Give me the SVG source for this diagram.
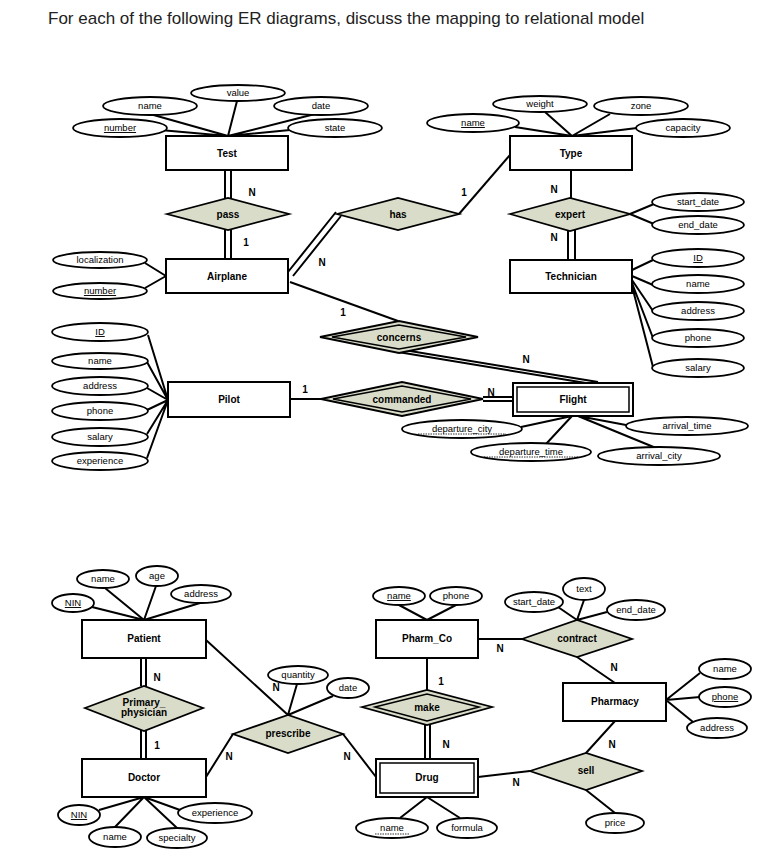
<svg xmlns="http://www.w3.org/2000/svg" width="775" height="866" viewBox="0 0 775 866">
<style>
text{font-family:"Liberation Sans",Arial,sans-serif;text-anchor:middle;fill:#000}
.t{font-size:17px;text-anchor:start;fill:#222}
.e{fill:#fff;stroke:#000;stroke-width:2}
.a{fill:#fff;stroke:#000;stroke-width:1.8}
.r{fill:#d9dcc9;stroke:#000;stroke-width:1.8}
.ri{fill:none;stroke:#000;stroke-width:1.5}
.l{stroke:#000;stroke-width:2;fill:none}
.b{font-size:10px;font-weight:bold}
.s{font-size:9.5px}
.c{font-size:10px;font-weight:bold}
.u{text-decoration:underline}
.d{stroke:#000;stroke-width:0.8;stroke-dasharray:1.5 1}
</style>
<text class="t" x="48" y="24">For each of the following ER diagrams, discuss the mapping to relational model</text>

<g id="connectors">
<!-- Test attrs -->
<path class="l" d="M160,130L228,136M150,114L228,136M237,101L228,136M315,114L228,136M290,130L228,136"/>
<!-- Test-pass double -->
<path class="l" d="M225,170V198M231,170V198M225,230V260M231,230V260"/>
<!-- Airplane attrs -->
<path class="l" d="M145,263L166,276M145,288L166,276"/>
<!-- Airplane-has double -->
<path class="l" d="M288,272L336,212M293,276L341,216"/>
<!-- has-Type -->
<path class="l" d="M459,214L510,155"/>
<!-- Type attrs -->
<path class="l" d="M515,127L572,136M545,112L572,136M610,114L572,136M637,128L572,136"/>
<!-- Type-expert -->
<path class="l" d="M571,170V198M568,230V260M575,230V260"/>
<path class="l" d="M630,214L654,204M630,214L654,224"/>
<!-- Technician attrs -->
<path class="l" d="M632,270L653,260M632,276L653,285M632,280L653,311M632,283L653,338M632,286L653,367"/>
<!-- Airplane-concerns -->
<path class="l" d="M290,282L398,321"/>
<!-- concerns-Flight double -->
<path class="l" d="M398,352L592,384M404,350L598,382"/>
<!-- Pilot attrs -->
<path class="l" d="M148,335L168,400M147,362L168,400M147,388L168,400M147,410L168,400M147,434L168,400M147,458L168,400"/>
<!-- Pilot-commanded -->
<path class="l" d="M290,399H321"/>
<path class="l" d="M483,397H513M483,401H513"/>
<!-- Flight attrs -->
<path class="l" d="M521,427L572,416M546,444L572,416M626,425L578,416M656,448L578,416"/>

<!-- Patient attrs -->
<path class="l" d="M92,607L144,620M105,588L144,620M156,586L144,620M200,603L144,620"/>
<path class="l" d="M141,658V686M146,658V686M141,730V759M146,730V759"/>
<!-- Doctor attrs -->
<path class="l" d="M99,810L144,797M115,827L144,797M177,828L144,797M180,810L144,797"/>
<!-- prescribe -->
<path class="l" d="M206,640L288,715M206,777L233,734M343,734L376,777M297,684L288,715M333,696L288,715"/>
<!-- Pharm_Co -->
<path class="l" d="M399,605L427,620M456,605L427,620M478,639H522"/>
<path class="l" d="M558,607L577,620M584,600L577,620M607,612L577,620M577,657L615,683"/>
<path class="l" d="M666,700L700,673M666,700L700,697M666,700L693,722"/>
<path class="l" d="M427,658V690M425,725V759M430,725V759"/>
<path class="l" d="M427,797L400,818M427,797L460,818"/>
<path class="l" d="M478,777L530,771M615,721L586,753M586,790L615,813"/>
</g>

<g id="labels-card" class="c">
<text x="252" y="196">N</text><text x="246" y="246">1</text>
<text x="322" y="266">N</text><text x="464" y="196">1</text>
<text x="554" y="193">N</text><text x="554" y="241">N</text>
<text x="343" y="316">1</text><text x="526" y="363">N</text>
<text x="305" y="393">1</text><text x="491" y="396">N</text>
<text x="157" y="681">N</text><text x="157" y="749">1</text>
<text x="276" y="691">N</text><text x="229" y="760">N</text>
<text x="347" y="760">N</text><text x="500" y="652">N</text>
<text x="614" y="671">N</text><text x="441" y="685">1</text>
<text x="446" y="748">N</text><text x="516" y="786">N</text>
<text x="612" y="748">N</text>
</g>

<g id="test"><rect class="e" x="166" y="136" width="122" height="34"/><text class="b" x="227" y="157">Test</text></g>
<g id="test-attrs" class="s">
<ellipse class="a" cx="238" cy="93" rx="47" ry="8"/><text x="238" y="96">value</text>
<ellipse class="a" cx="150" cy="106" rx="47" ry="9"/><text x="150" y="109">name</text>
<ellipse class="a" cx="120" cy="128" rx="47" ry="9"/><text class="u" x="120" y="131">number</text>
<ellipse class="a" cx="321" cy="106" rx="47" ry="9"/><text x="321" y="109">date</text>
<ellipse class="a" cx="335" cy="128" rx="47" ry="9"/><text x="335" y="131">state</text>
</g>
<g id="pass"><polygon class="r" points="167,214 228,198 289,214 228,230"/><text class="b" x="228" y="218">pass</text></g>
<g id="airplane"><rect class="e" x="166" y="259" width="122" height="34"/><text class="b" x="227" y="280">Airplane</text></g>
<g id="airplane-attrs" class="s">
<ellipse class="a" cx="100" cy="260" rx="47" ry="8"/><text x="100" y="263">localization</text>
<ellipse class="a" cx="100" cy="291" rx="47" ry="8"/><text class="u" x="100" y="294">number</text>
</g>
<g id="has"><polygon class="r" points="337,214 398,198 459,214 398,230"/><text class="b" x="398" y="218">has</text></g>
<g id="type"><rect class="e" x="510" y="136" width="122" height="34"/><text class="b" x="571" y="157">Type</text></g>
<g id="type-attrs" class="s">
<ellipse class="a" cx="473" cy="123" rx="46" ry="9"/><text class="u" x="473" y="126">name</text>
<ellipse class="a" cx="540" cy="104" rx="47" ry="8"/><text x="540" y="107">weight</text>
<ellipse class="a" cx="641" cy="106" rx="47" ry="9"/><text x="641" y="109">zone</text>
<ellipse class="a" cx="683" cy="128" rx="47" ry="9"/><text x="683" y="131">capacity</text>
</g>
<g id="expert"><polygon class="r" points="510,214 570,198 630,214 570,231"/><text class="b" x="570" y="218">expert</text></g>
<g id="expert-attrs" class="s">
<ellipse class="a" cx="698" cy="202" rx="46" ry="9"/><text x="698" y="205">start_date</text>
<ellipse class="a" cx="698" cy="225" rx="46" ry="9"/><text x="698" y="228">end_date</text>
</g>
<g id="technician"><rect class="e" x="510" y="260" width="122" height="33"/><text class="b" x="571" y="280">Technician</text></g>
<g id="technician-attrs" class="s">
<ellipse class="a" cx="698" cy="258" rx="46" ry="9"/><text class="u" x="698" y="261">ID</text>
<ellipse class="a" cx="698" cy="284" rx="46" ry="9"/><text x="698" y="287">name</text>
<ellipse class="a" cx="698" cy="311" rx="46" ry="9"/><text x="698" y="314">address</text>
<ellipse class="a" cx="698" cy="338" rx="46" ry="9"/><text x="698" y="341">phone</text>
<ellipse class="a" cx="698" cy="368" rx="46" ry="9"/><text x="698" y="371">salary</text>
</g>
<g id="concerns"><polygon class="r" points="320,337 399,321 478,337 399,353"/><polygon class="ri" points="332,337 399,325 466,337 399,349"/><text class="b" x="399" y="341">concerns</text></g>
<g id="pilot"><rect class="e" x="168" y="382" width="122" height="35"/><text class="b" x="229" y="403">Pilot</text></g>
<g id="pilot-attrs" class="s">
<ellipse class="a" cx="100" cy="332" rx="48" ry="9"/><text class="u" x="100" y="335">ID</text>
<ellipse class="a" cx="100" cy="361" rx="48" ry="8"/><text x="100" y="364">name</text>
<ellipse class="a" cx="100" cy="386" rx="48" ry="9"/><text x="100" y="389">address</text>
<ellipse class="a" cx="100" cy="411" rx="48" ry="9"/><text x="100" y="414">phone</text>
<ellipse class="a" cx="100" cy="437" rx="48" ry="9"/><text x="100" y="440">salary</text>
<ellipse class="a" cx="100" cy="461" rx="48" ry="9"/><text x="100" y="464">experience</text>
</g>
<g id="commanded"><polygon class="r" points="321,399 402,382 483,399 402,416"/><polygon class="ri" points="333,399 402,386 471,399 402,412"/><text class="b" x="402" y="403">commanded</text></g>
<g id="flight"><rect class="e" x="513" y="383" width="120" height="33"/><rect class="ri" x="517" y="387" width="112" height="25"/><text class="b" x="573" y="403">Flight</text></g>
<g id="flight-attrs" class="s">
<ellipse class="a" cx="462" cy="429" rx="60" ry="9"/><text x="462" y="432">departure_city</text><line class="d" x1="418" y1="434" x2="506" y2="434"/>
<ellipse class="a" cx="531" cy="452" rx="60" ry="9"/><text x="531" y="455">departure_time</text><line class="d" x1="484" y1="457" x2="578" y2="457"/>
<ellipse class="a" cx="687" cy="426" rx="61" ry="9"/><text x="687" y="429">arrival_time</text>
<ellipse class="a" cx="659" cy="456" rx="61" ry="9"/><text x="659" y="459">arrival_city</text>
</g>

<g id="patient"><rect class="e" x="82" y="620" width="124" height="38"/><text class="b" x="144" y="642">Patient</text></g>
<g id="patient-attrs" class="s">
<ellipse class="a" cx="73" cy="603" rx="21" ry="9"/><text class="u" x="73" y="606">NIN</text>
<ellipse class="a" cx="103" cy="579" rx="26" ry="9"/><text x="103" y="582">name</text>
<ellipse class="a" cx="157" cy="576" rx="21" ry="10"/><text x="157" y="579">age</text>
<ellipse class="a" cx="201" cy="594" rx="30" ry="9"/><text x="201" y="597">address</text>
</g>
<g id="primary-physician"><polygon class="r" points="85,708 144,686 203,708 144,731"/><text class="b" x="144" y="706">Primary_</text><text class="b" x="144" y="716">physician</text></g>
<g id="doctor"><rect class="e" x="82" y="759" width="124" height="38"/><text class="b" x="144" y="781">Doctor</text></g>
<g id="doctor-attrs" class="s">
<ellipse class="a" cx="79" cy="815" rx="21" ry="10"/><text class="u" x="79" y="818">NIN</text>
<ellipse class="a" cx="115" cy="837" rx="26" ry="10"/><text x="115" y="840">name</text>
<ellipse class="a" cx="177" cy="838" rx="30" ry="10"/><text x="177" y="841">specialty</text>
<ellipse class="a" cx="215" cy="813" rx="37" ry="10"/><text x="215" y="816">experience</text>
</g>
<g id="prescribe"><polygon class="r" points="233,734 288,715 343,734 288,753"/><text class="b" x="288" y="737">prescribe</text></g>
<g id="prescribe-attrs" class="s">
<ellipse class="a" cx="298" cy="675" rx="30" ry="9"/><text x="298" y="678">quantity</text>
<ellipse class="a" cx="348" cy="688" rx="21" ry="10"/><text x="348" y="691">date</text>
</g>
<g id="pharm-co"><rect class="e" x="376" y="620" width="102" height="38"/><text class="b" x="427" y="642">Pharm_Co</text></g>
<g id="pharm-co-attrs" class="s">
<ellipse class="a" cx="399" cy="596" rx="26" ry="9"/><text class="u" x="399" y="599">name</text>
<ellipse class="a" cx="456" cy="596" rx="26" ry="9"/><text x="456" y="599">phone</text>
</g>
<g id="contract"><polygon class="r" points="522,639 577,620 632,639 577,657"/><text class="b" x="577" y="642">contract</text></g>
<g id="contract-attrs" class="s">
<ellipse class="a" cx="534" cy="602" rx="29" ry="10"/><text x="534" y="605">start_date</text>
<ellipse class="a" cx="584" cy="589" rx="21" ry="11"/><text x="584" y="592">text</text>
<ellipse class="a" cx="636" cy="610" rx="29" ry="10"/><text x="636" y="613">end_date</text>
</g>
<g id="pharmacy"><rect class="e" x="563" y="683" width="103" height="38"/><text class="b" x="615" y="705">Pharmacy</text></g>
<g id="pharmacy-attrs" class="s">
<ellipse class="a" cx="725" cy="669" rx="26" ry="10"/><text x="725" y="672">name</text>
<ellipse class="a" cx="725" cy="697" rx="26" ry="10"/><text class="u" x="725" y="700">phone</text>
<ellipse class="a" cx="717" cy="728" rx="30" ry="10"/><text x="717" y="731">address</text>
</g>
<g id="make"><polygon class="r" points="362,707 427,690 492,707 427,725"/><polygon class="ri" points="375,707 427,694 479,707 427,721"/><text class="b" x="427" y="711">make</text></g>
<g id="drug"><rect class="e" x="376" y="759" width="102" height="38"/><rect class="ri" x="380" y="763" width="94" height="30"/><text class="b" x="427" y="781">Drug</text></g>
<g id="drug-attrs" class="s">
<ellipse class="a" cx="392" cy="828" rx="36" ry="10"/><text x="392" y="831">name</text><line class="d" x1="375" y1="834" x2="410" y2="834"/>
<ellipse class="a" cx="467" cy="828" rx="30" ry="10"/><text x="467" y="831">formula</text>
</g>
<g id="sell"><polygon class="r" points="530,771 586,753 642,771 586,790"/><text class="b" x="586" y="774">sell</text></g>
<g id="sell-attrs" class="s">
<ellipse class="a" cx="615" cy="823" rx="29" ry="10"/><text x="615" y="826">price</text>
</g>
</svg>
